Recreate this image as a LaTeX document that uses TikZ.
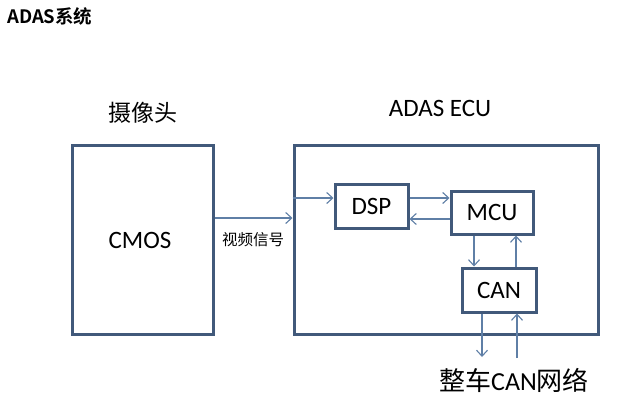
\documentclass[tikz,border=0pt]{standalone}
\usepackage{fontspec}
\setmainfont{Carlito}
\newfontfamily\cjk{Noto Sans CJK SC}
\newfontfamily\cjkb{Noto Sans CJK SC Bold}
\usetikzlibrary{arrows.meta}
\definecolor{boxc}{HTML}{41597A}
\definecolor{arrc}{HTML}{5F7FA6}
\tikzset{
  bigbox/.style={draw=boxc,line width=3pt,inner sep=0pt},
  smallbox/.style={draw=boxc,line width=3pt,inner sep=0pt,font=\fontsize{25}{25}\selectfont},
  arr/.style={draw=arrc,line width=1.1pt,-{Straight Barb[length=6pt,width=11pt,line width=1.1pt]}},
}
\begin{document}
\begin{tikzpicture}[x=1pt,y=-1pt]
\useasboundingbox[fill=white] (0,0) rectangle (623,402);
\node[anchor=west,inner sep=0pt,font=\cjkb\fontsize{18.5}{18.5}\selectfont] (title) at (7,16) {ADAS系统};
\node[inner sep=0pt,font=\cjk\fontsize{23}{23}\selectfont] (camlbl) at (143,113) {摄像头};
\node[inner sep=0pt,font=\fontsize{25}{25}\selectfont] (eculbl) at (440,108) {ADAS ECU};
\node[bigbox,minimum width=141pt,minimum height=189pt] (cmos) at (142.5,239.5) {};
\node[inner sep=0pt,font=\fontsize{25}{25}\selectfont] (cmoslbl) at (140,240) {CMOS};
\node[bigbox,minimum width=304pt,minimum height=189pt] (ecu) at (446,239.5) {};
\node[smallbox,minimum width=73pt,minimum height=44pt] (dsp) at (371.5,206) {DSP};
\node[smallbox,minimum width=82pt,minimum height=43pt] (mcu) at (492,212.5) {MCU};
\node[smallbox,minimum width=74pt,minimum height=44pt] (can) at (499,290) {CAN};
\node[inner sep=0pt,font=\cjk\fontsize{15.5}{15.5}\selectfont] (vid) at (253,240) {视频信号};
\node[inner sep=0pt,font=\fontsize{26}{26}\selectfont] (net) at (514,380) {{\cjk 整车}CAN{\cjk 网络}};
\coordinate (down) at (482,357);
\coordinate (up) at (517,358);
\draw[arr] (cmos.east |- 0,218) -- (ecu.west |- 0,218);
\draw[arr] (ecu.west |- 0,198) -- (dsp.west |- 0,198);
\draw[arr] (dsp.east |- 0,198) -- (mcu.west |- 0,198);
\draw[arr] (mcu.west |- 0,219) -- (dsp.east |- 0,219);
\draw[arr] (mcu.south -| 474,0) -- (can.north -| 474,0);
\draw[arr] (can.north -| 516,0) -- (mcu.south -| 516,0);
\draw[arr] (can.south -| down) -- (down);
\draw[arr] (up) -- (can.south -| up);
\end{tikzpicture}
\end{document}
